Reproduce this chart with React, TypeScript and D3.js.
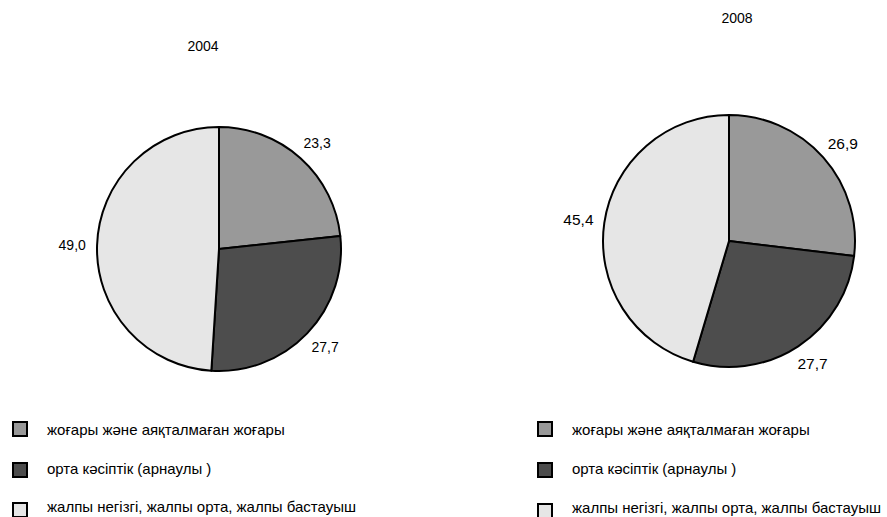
import React from "react";
import * as d3 from "d3";

const categories = [
  "жоғары және аяқталмаған жоғары",
  "орта кәсіптік (арнаулы )",
  "жалпы негізгі, жалпы орта, жалпы бастауыш",
];
const years = ["2004", "2008"];
const values2004 = [23.3, 27.7, 49.0];
const values2008 = [26.9, 27.7, 45.4];
const colors = ["#999999", "#4d4d4d", "#e6e6e6"];

const FONT = "'Liberation Sans', Arial, sans-serif";

type PieSpec = {
  title: string;
  values: number[];
  cx: number;
  cy: number;
  r: number;
  titleX: number;
  titleY: number;
  labelSize: number;
  legendX: number;
  textX: number;
  markerRows: number[];
  textRows: number[];
};

const specs: PieSpec[] = [
  {
    title: years[0],
    values: values2004,
    cx: 219,
    cy: 249,
    r: 122,
    titleX: 203,
    titleY: 46,
    labelSize: 14,
    legendX: 12,
    textX: 47,
    markerRows: [429, 470, 510],
    textRows: [429, 468, 506],
  },
  {
    title: years[1],
    values: values2008,
    cx: 729,
    cy: 241,
    r: 126,
    titleX: 737,
    titleY: 18,
    labelSize: 15.5,
    legendX: 537,
    textX: 572,
    markerRows: [429, 470, 511],
    textRows: [429, 468, 507],
  },
];

const fmt = (v: number) => v.toFixed(1).replace(".", ",");

function Pie({ s }: { s: PieSpec }) {
  const pie = d3
    .pie<number>()
    .sort(null)
    .value((d) => d)
    .startAngle(0)
    .endAngle(2 * Math.PI);
  const arcs = pie(s.values);
  const arc = d3.arc<d3.PieArcDatum<number>>().innerRadius(0).outerRadius(s.r);
  const hw = s.labelSize * 0.85;
  const hh = s.labelSize * 0.5;
  const d = 13;
  return (
    <g>
      <text
        x={s.titleX}
        y={s.titleY}
        textAnchor="middle"
        dominantBaseline="central"
        fontFamily={FONT}
        fontSize={14}
        fill="#000"
      >
        {s.title}
      </text>
      <g transform={`translate(${s.cx},${s.cy})`}>
        {arcs.map((a, i) => (
          <path
            key={i}
            d={arc(a) || ""}
            fill={colors[i]}
            stroke="#000"
            strokeWidth={2}
            strokeLinejoin="round"
          />
        ))}
        {arcs.map((a, i) => {
          const m = (a.startAngle + a.endAngle) / 2;
          const sn = Math.sin(m);
          const cs = Math.cos(m);
          const x = (s.r + d) * sn + hw * sn;
          const y = -(s.r + d) * cs - hh * cs;
          return (
            <text
              key={"l" + i}
              x={x}
              y={y}
              textAnchor="middle"
              dominantBaseline="central"
              fontFamily={FONT}
              fontSize={s.labelSize}
              fill="#000"
            >
              {fmt(a.data)}
            </text>
          );
        })}
      </g>
      {categories.map((c, i) => (
        <g key={"lg" + i}>
          <rect
            x={s.legendX + 1}
            y={s.markerRows[i] - 7}
            width={14}
            height={14}
            fill={colors[i]}
            stroke="#000"
            strokeWidth={2}
          />
          <text
            x={s.textX}
            y={s.textRows[i]}
            dominantBaseline="central"
            fontFamily={FONT}
            fontSize={15}
            fill="#000"
          >
            {c}
          </text>
        </g>
      ))}
    </g>
  );
}

export default function App() {
  return (
    <svg
      width={887}
      height={517}
      style={{ position: "absolute", left: 0, top: 0, background: "#fff" }}
    >
      <rect width={887} height={517} fill="#fff" />
      {specs.map((s, i) => (
        <Pie key={i} s={s} />
      ))}
    </svg>
  );
}
